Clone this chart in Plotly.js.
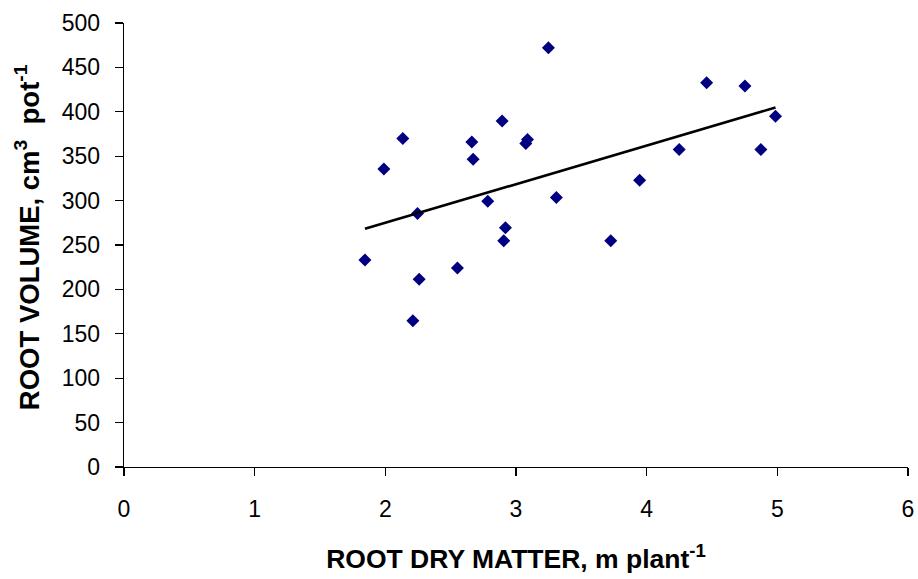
<!DOCTYPE html>
<html>
<head>
<meta charset="utf-8">
<script src="https://cdn.plot.ly/plotly-3.0.1.min.js"></script>
<style>html,body{margin:0;padding:0;background:#fff;}#chart{width:918px;height:579px;}</style>
</head>
<body>
<div id="chart"></div>
<script>
// Root dry matter (x) and root volume (y)
const rootDryMatter = [1.844, 1.989, 2.134, 2.211, 2.246, 2.259, 2.552, 2.662, 2.672, 2.784, 2.894, 2.906,
                       2.919, 3.075, 3.088, 3.248, 3.309, 3.725, 3.946, 4.249, 4.459, 4.752, 4.874, 4.986];
const rootVolume    = [233.1, 335.7, 369.9, 164.6, 285.6, 211.4, 224.2, 366.1, 346.6, 299.4, 389.7, 254.8,
                       269.4, 364.3, 368.8, 472.1, 303.6, 254.8, 323.0, 357.5, 432.8, 429.0, 357.5, 395.0];
const xTickVals = [0, 1, 2, 3, 4, 5, 6];
const yTickVals = [0, 50, 100, 150, 200, 250, 300, 350, 400, 450, 500];

// Linear least-squares trendline computed from the data
const n = rootDryMatter.length;
const mx = rootDryMatter.reduce((a, b) => a + b, 0) / n;
const my = rootVolume.reduce((a, b) => a + b, 0) / n;
let sxy = 0, sxx = 0;
for (let i = 0; i < n; i++) {
  sxy += (rootDryMatter[i] - mx) * (rootVolume[i] - my);
  sxx += (rootDryMatter[i] - mx) ** 2;
}
const slope = sxy / sxx;
const intercept = my - slope * mx;
const xMin = Math.min(...rootDryMatter), xMax = Math.max(...rootDryMatter);
const trendX = [xMin, xMax];
const trendY = trendX.map(x => intercept + slope * x);

const font = 'Liberation Sans, Arial, sans-serif';

const traces = [
  {
    x: rootDryMatter, y: rootVolume, type: 'scatter', mode: 'markers',
    marker: {symbol: 'diamond', size: 10, color: '#000080', line: {width: 0}},
    showlegend: false, hoverinfo: 'skip'
  },
  {
    x: trendX, y: trendY, type: 'scatter', mode: 'lines',
    line: {color: '#000000', width: 2.6},
    showlegend: false, hoverinfo: 'skip'
  }
];

const layout = {
  width: 918, height: 579,
  paper_bgcolor: '#ffffff', plot_bgcolor: '#ffffff',
  margin: {l: 123.5, r: 9.5, t: 22.5, b: 111.5, pad: 0},
  showlegend: false,
  font: {family: font, color: '#000000', size: 23},
  xaxis: {
    range: [0, 6], tickvals: xTickVals, ticktext: xTickVals.map(String),
    showgrid: false, zeroline: false, showline: true, linecolor: '#000', linewidth: 1.3,
    ticks: 'outside', ticklen: 8, tickwidth: 1.3, tickcolor: '#000',
    tickfont: {family: font, size: 23, color: '#000'},
    ticklabelstandoff: 13,
    title: {text: '<b>ROOT DRY MATTER, m plant<sup>-1</sup></b>', font: {family: font, size: 26.5, color: '#000'}, standoff: 28},
    automargin: false, fixedrange: true
  },
  yaxis: {
    range: [0, 500], tickvals: yTickVals, ticktext: yTickVals.map(String),
    showgrid: false, zeroline: false, showline: true, linecolor: '#000', linewidth: 1.3,
    ticks: 'outside', ticklen: 8, tickwidth: 1.3, tickcolor: '#000',
    tickfont: {family: font, size: 23, color: '#000'},
    ticklabelstandoff: 10,
    title: {text: '<b>\u00A0\u00A0ROOT VOLUME, cm<sup>3</sup>  pot<sup>-1</sup></b>', font: {family: font, size: 27.5, color: '#000'}, standoff: 14},
    automargin: false, fixedrange: true
  }
};

Plotly.newPlot('chart', traces, layout, {staticPlot: true, displayModeBar: false});
</script>
</body>
</html>
